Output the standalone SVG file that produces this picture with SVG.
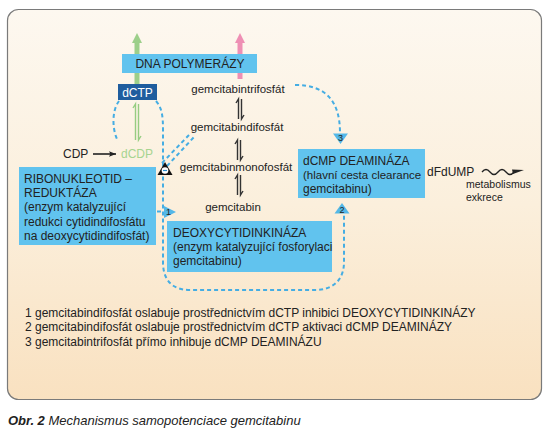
<svg xmlns="http://www.w3.org/2000/svg" width="557" height="434" viewBox="0 0 557 434">
<defs>
<linearGradient id="bg" x1="0" y1="0" x2="0" y2="1">
<stop offset="0" stop-color="#fdf8f0"/>
<stop offset="0.5" stop-color="#fbefdc"/>
<stop offset="1" stop-color="#f9e1c0"/>
</linearGradient>
<marker id="ah" viewBox="0 0 10 10" refX="10" refY="5" markerWidth="7" markerHeight="7" markerUnits="userSpaceOnUse" orient="auto">
<path d="M0,1 L10,5 L0,9 L2,5 z" fill="#222"/>
</marker>
<style>
text{font-family:"Liberation Sans",Arial,sans-serif;fill:#222}
.t{font-size:11.5px}
.b{font-size:12px}
.lg{font-size:12px}
.box{fill:#61c3ee}
.dash{fill:none;stroke:#45ade3;stroke-width:2;stroke-dasharray:4 3}
.eq{fill:none;stroke:#333;stroke-width:1.4}
.geq{fill:none;stroke:#96cd82;stroke-width:1.4}
.mk{fill:#54b8e8}
.mt{font-size:9px;text-anchor:middle}
</style>
</defs>
<rect x="7.5" y="9.5" width="534" height="390" rx="11" fill="url(#bg)" stroke="#7a7a7a" stroke-width="1.2"/>

<g id="connectors">
<path d="M137,84 V42" stroke="#9ccf8a" stroke-width="5" fill="none"/>
<path d="M132,43 L137,33 L142,43 z" fill="#9ccf8a"/>
<path d="M240,79 V42" stroke="#ee8fb4" stroke-width="5" fill="none"/>
<path d="M235,43 L240,33 L245,43 z" fill="#ee8fb4"/>
<path class="eq" d="M238.5,119 V99 l-2.5,4 M241.5,99 V119 l2.5,-4"/>
<path class="eq" d="M237.5,160 V140 l-2.5,4 M240.5,140 V160 l2.5,-4"/>
<path class="eq" d="M237.5,195 V175 l-2.5,4 M240.5,175 V195 l2.5,-4"/>
<path class="geq" d="M135.5,140 V104 l-2.5,4 M138.5,104 V140 l2.5,-4"/>
<path d="M93,154 H116" stroke="#222" stroke-width="1.6" marker-end="url(#ah)"/>
<path d="M300,167.5 H420" stroke="#222" stroke-width="1.6" marker-end="url(#ah)"/>
<path d="M482,172 q4,-5 8,0 t8,0 t8,0 t8,0" fill="none" stroke="#222" stroke-width="1.3"/>
<path d="M512,169.5 L524,170 L513,174 z" fill="#222"/>
<path class="dash" d="M119,101 C112,110 112,128 117,139"/>
<path class="dash" d="M156,101 C162,108 163,116 163,130 V262 C163,280 172,290 190,290 H315 C333,290 344,280 344,262 V215"/>
<path class="dash" d="M295,85 C325,85 340,100 340,133"/>
<path class="dash" d="M162,163 L189,135 M167,166 L194,137"/>
<path class="dash" d="M157,211.5 H164"/>
</g>

<g id="dna-polymerazy">
<rect class="box" x="122" y="54" width="135" height="19"/>
<text class="b" x="190" y="68" text-anchor="middle">DNA POLYMERÁZY</text>
</g>
<g id="dctp">
<rect x="118" y="84" width="39" height="16" fill="#1f5d9e"/>
<text class="b" x="137.5" y="96.5" text-anchor="middle" style="fill:#fff">dCTP</text>
</g>
<g id="gemcitabintrifosfat"><text class="t" x="238" y="93" text-anchor="middle">gemcitabintrifosfát</text></g>
<g id="gemcitabindifosfat"><text class="t" x="237" y="131" text-anchor="middle">gemcitabindifosfát</text></g>
<g id="gemcitabinmonofosfat"><text class="t" x="236" y="171" text-anchor="middle">gemcitabinmonofosfát</text></g>
<g id="gemcitabin"><text class="t" x="233" y="211" text-anchor="middle">gemcitabin</text></g>
<g id="cdp"><text class="b" x="63" y="158">CDP</text></g>
<g id="dcdp"><text class="b" x="121" y="158" style="fill:#a6d490">dCDP</text></g>

<g id="ribonukleotid-reduktaza">
<rect class="box" x="19" y="167" width="137" height="78"/>
<text class="b" x="24" y="183">RIBONUKLEOTID –</text>
<text class="b" x="24" y="197">REDUKTÁZA</text>
<text class="b" x="24" y="211">(enzym katalyzující</text>
<text class="b" x="24" y="226">redukci cytidindifosfátu</text>
<text class="b" x="24" y="240">na deoxycytidindifosfát)</text>
</g>

<g id="deoxycytidinkinaza">
<rect class="box" x="167" y="221" width="165" height="51"/>
<text class="b" x="173" y="237">DEOXYCYTIDINKINÁZA</text>
<text class="b" x="173" y="251">(enzym katalyzující fosforylaci</text>
<text class="b" x="173" y="265">gemcitabinu)</text>
</g>

<g id="dcmp-deaminaza">
<rect class="box" x="298" y="149" width="127" height="49"/>
<text class="b" x="303" y="165">dCMP DEAMINÁZA</text>
<text class="b" x="303" y="179" style="font-size:11.5px">(hlavní cesta clearance</text>
<text class="b" x="303" y="193">gemcitabinu)</text>
</g>

<g id="dfdump">
<text class="b" x="427" y="176">dFdUMP</text>
<text style="font-size:10.5px" x="466" y="188">metabolismus</text>
<text style="font-size:10.5px" x="466" y="201">exkrece</text>
</g>

<g id="inhibitor">
<path d="M165,162 L172.5,175 L157.5,175 z" fill="#111"/>
<circle cx="165" cy="170.5" r="3.3" fill="#fff"/>
<path d="M163,170.5 H167" stroke="#2a8fd0" stroke-width="1.2"/>
</g>
<g id="marker-1">
<path class="mk" d="M164,206 L176,212 L164,218 z"/>
<text class="mt" x="168.5" y="215">1</text>
</g>
<g id="marker-2">
<path class="mk" d="M342,203 L349.5,213.5 L334.5,213.5 z"/>
<text class="mt" x="342" y="212.5">2</text>
</g>
<g id="marker-3">
<path class="mk" d="M333,133.5 L348,133.5 L340.5,144 z"/>
<text class="mt" x="340.5" y="141">3</text>
</g>

<g id="legend">
<text class="lg" x="25" y="317">1 gemcitabindifosfát oslabuje prostřednictvím dCTP inhibici DEOXYCYTIDINKINÁZY</text>
<text class="lg" x="25" y="331">2 gemcitabindifosfát oslabuje prostřednictvím dCTP aktivaci dCMP DEAMINÁZY</text>
<text class="lg" x="25" y="346">3 gemcitabintrifosfát přímo inhibuje dCMP DEAMINÁZU</text>
</g>
<g id="caption">
<text style="font-size:13px;font-style:italic" x="8" y="425"><tspan style="font-weight:bold">Obr. 2</tspan>  Mechanismus samopotenciace gemcitabinu</text>
</g>
</svg>
